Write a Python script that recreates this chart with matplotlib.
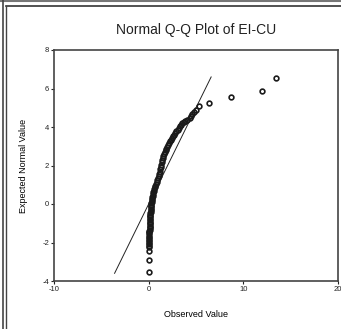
import matplotlib
matplotlib.use("Agg")
import matplotlib.pyplot as plt
from matplotlib.lines import Line2D

plt.rcParams['font.family'] = ['Liberation Sans', 'DejaVu Sans']
plt.rcParams['axes.unicode_minus'] = False

# values
observed = [0.02, 0.02, 0.02,
            0.03, 0.03, 0.04, 0.04, 0.05, 0.05, 0.06, 0.06, 0.07, 0.07,
            0.08, 0.08, 0.09, 0.10, 0.10, 0.11, 0.12, 0.12, 0.13, 0.14,
            0.15, 0.16, 0.17, 0.18, 0.19, 0.20, 0.21, 0.22, 0.24, 0.25,
            0.27, 0.29, 0.31, 0.33, 0.36, 0.39, 0.43, 0.47, 0.51, 0.55,
            0.60, 0.66, 0.72, 0.78, 0.85, 0.92, 0.99, 1.05, 1.10, 1.15,
            1.20, 1.25, 1.30, 1.36, 1.41, 1.48, 1.56, 1.64, 1.72, 1.80,
            1.88, 1.96, 2.05, 2.14, 2.24, 2.34, 2.45, 2.56, 2.66, 2.78,
            2.92, 3.06, 3.18, 3.30, 3.42, 3.55, 3.70, 3.88, 4.10, 4.35,
            4.50, 4.62, 4.77, 4.95, 5.30, 6.36, 8.70, 11.95, 13.43]
expected = [-3.53, -2.91, -2.44,
            -2.25, -2.17, -2.09, -2.01, -1.93, -1.85, -1.77, -1.69, -1.61, -1.53,
            -1.46, -1.40, -1.33, -1.26, -1.19, -1.12, -1.05, -0.98, -0.91, -0.84,
            -0.77, -0.70, -0.62, -0.55, -0.48, -0.40, -0.33, -0.26, -0.18, -0.10,
            -0.03, 0.05, 0.12, 0.20, 0.28, 0.36, 0.44, 0.52, 0.60, 0.68,
            0.77, 0.86, 0.95, 1.04, 1.14, 1.24, 1.34, 1.45, 1.56, 1.68,
            1.80, 1.92, 2.04, 2.16, 2.27, 2.38, 2.48, 2.58, 2.68, 2.78,
            2.88, 2.98, 3.07, 3.16, 3.25, 3.34, 3.43, 3.52, 3.61, 3.70,
            3.78, 3.87, 3.96, 4.04, 4.12, 4.20, 4.25, 4.30, 4.36, 4.45,
            4.55, 4.66, 4.78, 4.90, 5.09, 5.26, 5.56, 5.87, 6.56]
ref_line = [-3.6, 6.6]
x_ticks = [-10, 0, 10, 20]
y_ticks = [-4, -2, 0, 2, 4, 6, 8]

fig = plt.figure(figsize=(3.41, 3.29), dpi=100)
ax = fig.add_axes([54/341, 1-281/329, 284/341, 231/329])

ax.plot(ref_line, ref_line, color='#222222', lw=0.7)
ax.plot(observed, expected, linestyle='none', marker='o', markersize=3.4,
        markerfacecolor='none', markeredgecolor='#1a1a1a', markeredgewidth=1.2)

ax.set_xlim(-10, 20)
ax.set_ylim(-4, 8)
ax.set_xticks(x_ticks)
ax.set_yticks(y_ticks)
ax.tick_params(labelsize=5.5, length=2, width=0.8, pad=1.5, colors='#222222')
for s in ax.spines.values():
    s.set_color('#444444')
    s.set_linewidth(1.2)

ax.set_xlabel('Observed Value', fontsize=6.5, labelpad=12)
ax.set_ylabel('Expected Normal Value', fontsize=6.5, labelpad=10)
fig.text(196/341, 1-30/329, 'Normal Q-Q Plot of EI-CU', fontsize=10,
         ha='center', va='center', color='#222222')

# frame lines around the picture
fig.add_artist(Line2D([0, 1], [1-1/329, 1-1/329], color='#777777', lw=1.5))
fig.add_artist(Line2D([6/341, 1], [1-6/329, 1-6/329], color='#333333', lw=1.2))
fig.add_artist(Line2D([2.5/341, 2.5/341], [0, 1], color='#444444', lw=1.2))
fig.add_artist(Line2D([6/341, 6/341], [0, 1-6/329], color='#444444', lw=1.0))

fig.savefig('out.png', dpi=100)
plt.close(fig)
